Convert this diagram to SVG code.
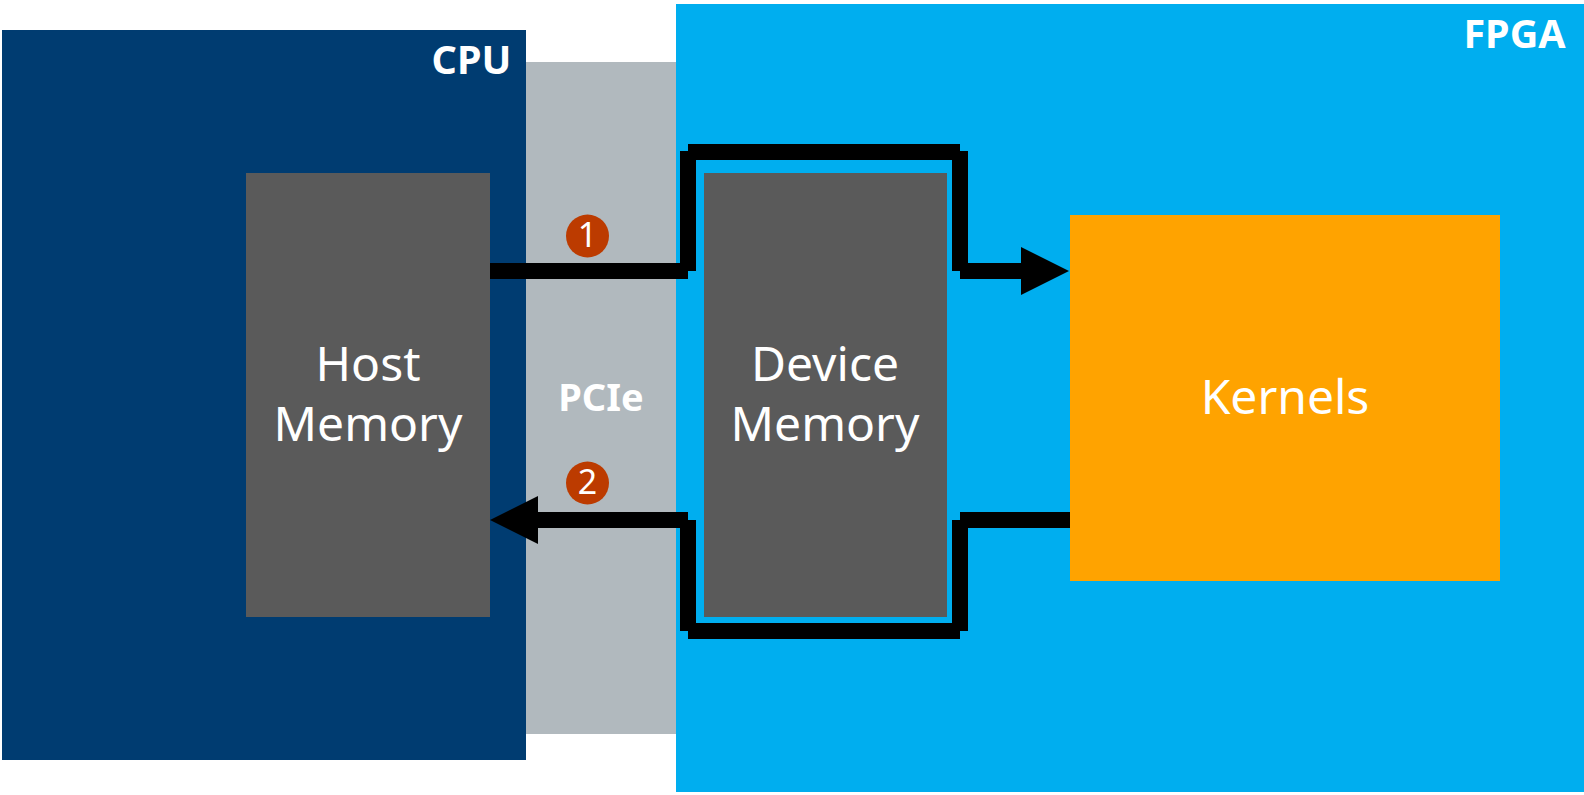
<svg xmlns="http://www.w3.org/2000/svg" width="1584" height="795" viewBox="0 0 1584 795">
  <style>
    text { fill: #fff; font-family: "Noto Sans", "Open Sans", "DejaVu Sans", sans-serif; text-anchor: middle; }
    .title { font-size: 39.5px; font-weight: 700; }
    .body { font-size: 48px; font-weight: 400; }
    .num { font-size: 34px; font-weight: 400; }
    .mem { fill: #5a5a5a; }
    .badge { fill: #bc3b00; }
    .conn { fill: none; stroke: #000; stroke-width: 16; stroke-linecap: butt; }
  </style>
  <defs>
    <marker id="arrow" markerUnits="userSpaceOnUse" markerWidth="48" markerHeight="48" refX="0" refY="24" orient="auto">
      <polygon points="0,0 48,24 0,48" fill="#000"/>
    </marker>
  </defs>
  <rect width="1584" height="795" fill="#fff"/>
  <g id="cpu">
    <rect x="2" y="30" width="524" height="730" fill="#003c71"/>
    <text class="title" x="471.5" y="73.5">CPU</text>
  </g>
  <g id="pcie">
    <rect x="526" y="62" width="150" height="672" fill="#b1b9be"/>
    <text class="title" x="601" y="410.5" style="font-size:38px">PCIe</text>
  </g>
  <g id="fpga">
    <rect x="676" y="4" width="908" height="788" fill="#00aeef"/>
    <text class="title" x="1514.5" y="48">FPGA</text>
  </g>
  <g id="host-memory">
    <rect class="mem" x="246" y="173" width="244" height="444"/>
    <text class="body" x="368" y="381">Host</text>
    <text class="body" x="368" y="441">Memory</text>
  </g>
  <g id="device-memory">
    <rect class="mem" x="704" y="173" width="243" height="444"/>
    <text class="body" x="825" y="381">Device</text>
    <text class="body" x="825" y="441">Memory</text>
  </g>
  <g id="kernels">
    <rect x="1070" y="215" width="430" height="366" fill="#ffa300"/>
    <text class="body" x="1285" y="413.5">Kernels</text>
  </g>
  <g id="connectors">
    <path class="conn" marker-end="url(#arrow)" d="M490 271H688M688 271V151M688 152H960M960 151V271M960 271H1021"/>
    <path class="conn" marker-end="url(#arrow)" d="M1070 520H960M960 520V631M960 631H688M688 631V520M688 520H538"/>
  </g>
  <g id="badge-1">
    <circle class="badge" cx="587.5" cy="236" r="21.5"/>
    <text class="num" x="587.5" y="247">1</text>
  </g>
  <g id="badge-2">
    <circle class="badge" cx="587.5" cy="483" r="21.5"/>
    <text class="num" x="587.5" y="494">2</text>
  </g>
</svg>
